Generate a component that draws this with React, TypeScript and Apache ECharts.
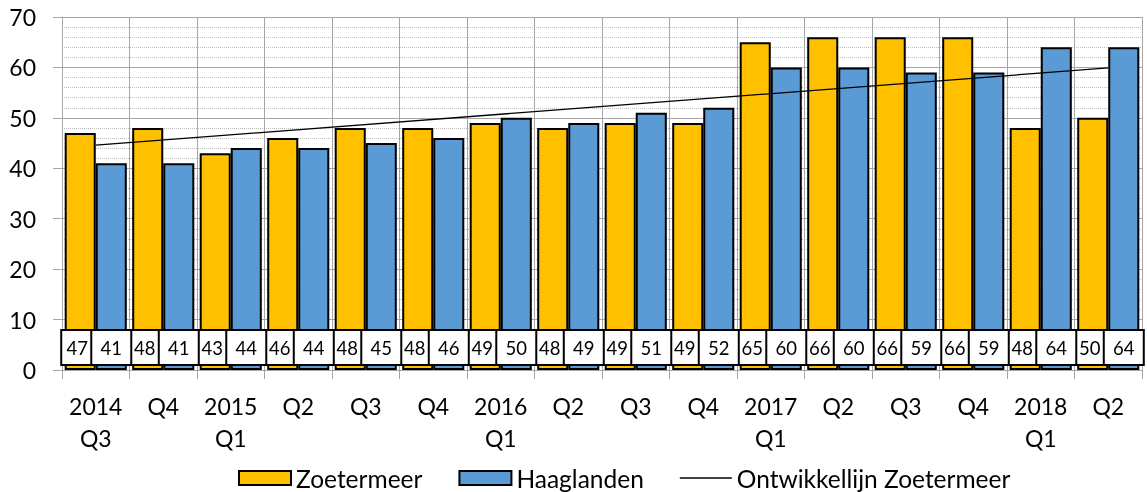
import React, { useEffect, useRef } from "react";
import * as echarts from "echarts";

const categories = [
  "2014\nQ3", "Q4", "2015\nQ1", "Q2", "Q3", "Q4", "2016\nQ1", "Q2",
  "Q3", "Q4", "2017\nQ1", "Q2", "Q3", "Q4", "2018\nQ1", "Q2",
];
const zoetermeer = [47, 48, 43, 46, 48, 48, 49, 48, 49, 49, 65, 66, 66, 66, 48, 50];
const haaglanden = [41, 41, 44, 44, 45, 46, 50, 49, 51, 52, 60, 60, 59, 59, 64, 64];
// Trend line: read endpoints from picture (first and last quarter)
const trendStart = 44.6;
const trendEnd = 59.9;
const yTicks = { min: 0, max: 70, interval: 10 };

const FONT = "Lato";

export default function App() {
  const ref = useRef<HTMLDivElement>(null);
  useEffect(() => {
    if (!ref.current) return;
    const chart = echarts.init(ref.current, null, { renderer: "svg" });
    const trend = categories.map((_, i) =>
      i === 0 ? trendStart : i === categories.length - 1 ? trendEnd : null
    );
    const labelBase = {
      show: true,
      position: "insideBottom",
      distance: 6,
      color: "#000",
      fontFamily: FONT,
      fontSize: 18.5,
      lineHeight: 21,
      backgroundColor: "#fff",
      borderColor: "#000",
      borderWidth: 2,
      align: "center",
    };
    chart.setOption({
      animation: false,
      textStyle: { fontFamily: FONT },
      grid: { left: 62, right: 5, top: 17, bottom: 122, containLabel: false },
      legend: {
        left: 238,
        top: 464,
        padding: 0,
        itemWidth: 52,
        itemHeight: 14,
        itemGap: 36,
        textStyle: { fontFamily: FONT, fontSize: 24.5, color: "#000", lineHeight: 28 },
        data: [
          { name: "Zoetermeer", icon: "rect" },
          { name: "Haaglanden", icon: "rect" },
          { name: "Ontwikkellijn Zoetermeer", icon: "path://M0,0H100V2.6H0Z" },
        ],
      },
      xAxis: {
        type: "category",
        data: categories,
        boundaryGap: true,
        axisLine: { show: true, lineStyle: { color: "#a6a6a6", width: 1 } },
        axisTick: { show: true, length: 9, lineStyle: { color: "#a6a6a6" } },
        axisLabel: {
          color: "#000",
          fontFamily: FONT,
          fontSize: 23,
          lineHeight: 32,
          margin: 20,
          interval: 0,
        },
        splitLine: { show: true, lineStyle: { color: "#a6a6a6", width: 1 } },
      },
      yAxis: {
        type: "value",
        min: yTicks.min,
        max: yTicks.max,
        interval: yTicks.interval,
        axisLine: { show: true, lineStyle: { color: "#a6a6a6", width: 1 } },
        axisTick: { show: true, length: 9, lineStyle: { color: "#a6a6a6" } },
        axisLabel: { color: "#000", fontFamily: FONT, fontSize: 23, margin: 26 },
        splitLine: { show: true, lineStyle: { color: "#a6a6a6", width: 1 } },
        minorTick: { show: false, splitNumber: 5 },
        minorSplitLine: {
          show: true,
          lineStyle: { color: "#bfbfbf", width: 1, type: "dotted" },
        },
      },
      series: [
        {
          name: "Zoetermeer",
          type: "bar",
          data: zoetermeer,
          barGap: "0%",
          barCategoryGap: "8%",
          itemStyle: { color: "#FFC000", borderColor: "#000", borderWidth: 2 },
          label: { ...labelBase, width: 24, padding: [6, 3, 6, 3], offset: [-3, 0] },
        },
        {
          name: "Haaglanden",
          type: "bar",
          data: haaglanden,
          barGap: "0%",
          barCategoryGap: "8%",
          itemStyle: { color: "#5B9BD5", borderColor: "#000", borderWidth: 2 },
          label: { ...labelBase, width: 32, padding: [6, 3, 6, 3] },
        },
        {
          name: "Ontwikkellijn Zoetermeer",
          type: "line",
          data: trend,
          connectNulls: true,
          symbol: "none",
          lineStyle: { color: "#000", width: 1.3 },
          itemStyle: { color: "#000" },
          z: 5,
        },
      ],
    });
    return () => chart.dispose();
  }, []);
  return (
    <div
      ref={ref}
      style={{ position: "fixed", left: 0, top: 0, width: 1147, height: 492 }}
    />
  );
}
